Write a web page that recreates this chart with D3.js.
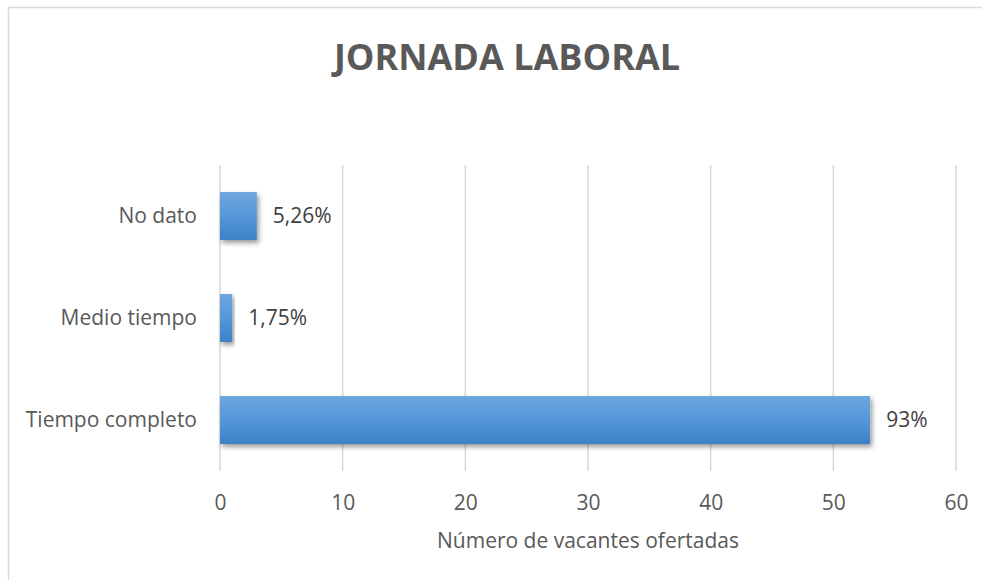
<!DOCTYPE html>
<html>
<head>
<meta charset="utf-8">
<script src="https://cdn.jsdelivr.net/npm/d3@7"></script>
<style>
  body { margin: 0; background: #fff; }
  text { font-family: 'Open Sans', sans-serif; fill: #595959; }
</style>
</head>
<body>
<svg id="bar"></svg>
<script>
const categories = ['No dato', 'Medio tiempo', 'Tiempo completo'];
const values = [3, 1, 53];
const labels = ['5,26%', '1,75%', '93%'];
const ticks = [0, 10, 20, 30, 40, 50, 60];

const width = 982;
const height = 580;
const padding = { top: 165, right: 26, bottom: 109, left: 220 };

const svg = d3.select('#bar').attr('width', width).attr('height', height);

const defs = svg.append('defs');
const grad = defs
  .append('linearGradient')
  .attr('id', 'barGrad')
  .attr('x1', 0)
  .attr('y1', 0)
  .attr('x2', 0)
  .attr('y2', 1);
grad.append('stop').attr('offset', '0%').attr('stop-color', '#6ea6dd');
grad.append('stop').attr('offset', '50%').attr('stop-color', '#5597d9');
grad.append('stop').attr('offset', '100%').attr('stop-color', '#3d80c6');

const shadow = defs
  .append('filter')
  .attr('id', 'shadow')
  .attr('x', '-10%')
  .attr('y', '-20%')
  .attr('width', '130%')
  .attr('height', '160%');
shadow
  .append('feDropShadow')
  .attr('dx', 2)
  .attr('dy', 3)
  .attr('stdDeviation', 2.5)
  .attr('flood-color', '#000')
  .attr('flood-opacity', 0.4);

// chart frame
svg
  .append('rect')
  .attr('x', 8.5)
  .attr('y', 7.5)
  .attr('width', 990)
  .attr('height', 600)
  .attr('fill', 'none')
  .attr('stroke', '#d9d9d9')
  .attr('stroke-width', 1.5);

const xScale = d3
  .scaleLinear()
  .domain([0, 60])
  .range([padding.left, width - padding.right]);

const yScale = d3
  .scaleBand()
  .domain(categories)
  .range([padding.top, height - padding.bottom])
  .paddingInner(0.53)
  .paddingOuter(0.265);

// gridlines
svg
  .append('g')
  .selectAll('line')
  .data(ticks)
  .enter()
  .append('line')
  .attr('x1', d => xScale(d))
  .attr('x2', d => xScale(d))
  .attr('y1', padding.top)
  .attr('y2', height - padding.bottom)
  .attr('stroke', '#d9d9d9')
  .attr('stroke-width', 1.5);

const xAxis = d3.axisBottom(xScale).tickValues(ticks).tickSize(0).tickPadding(24);
const xg = svg
  .append('g')
  .attr('transform', 'translate(0,' + (height - padding.bottom) + ')')
  .call(xAxis);
xg.select('.domain').remove();
xg.selectAll('text').style('font-size', '21px').attr('fill', '#595959');

const yAxis = d3.axisLeft(yScale).tickSize(0).tickPadding(23);
const yg = svg
  .append('g')
  .attr('transform', 'translate(' + padding.left + ',0)')
  .call(yAxis);
yg.select('.domain').remove();
yg.selectAll('text').style('font-size', '21px').attr('fill', '#595959');

const data = categories.map((c, i) => ({ cat: c, value: values[i], label: labels[i] }));

svg
  .selectAll('.bar')
  .data(data)
  .enter()
  .append('rect')
  .classed('bar', true)
  .attr('x', xScale(0))
  .attr('y', d => yScale(d.cat))
  .attr('width', d => xScale(d.value) - xScale(0))
  .attr('height', yScale.bandwidth())
  .attr('fill', 'url(#barGrad)')
  .attr('filter', 'url(#shadow)');

svg
  .selectAll('.bar-label')
  .data(data)
  .enter()
  .append('text')
  .classed('bar-label', true)
  .attr('x', d => xScale(d.value) + 16)
  .attr('y', d => yScale(d.cat) + yScale.bandwidth() / 2)
  .attr('dy', '0.35em')
  .style('font-size', '21px')
  .style('fill', '#404040')
  .text(d => d.label);

svg
  .append('text')
  .attr('x', 507)
  .attr('y', 70)
  .style('text-anchor', 'middle')
  .style('font-size', '36px')
  .style('font-weight', 'bold')
  .text('JORNADA LABORAL');

svg
  .append('text')
  .attr('x', xScale(30))
  .attr('y', 548)
  .style('text-anchor', 'middle')
  .style('font-size', '21px')
  .text('Número de vacantes ofertadas');
</script>
</body>
</html>
